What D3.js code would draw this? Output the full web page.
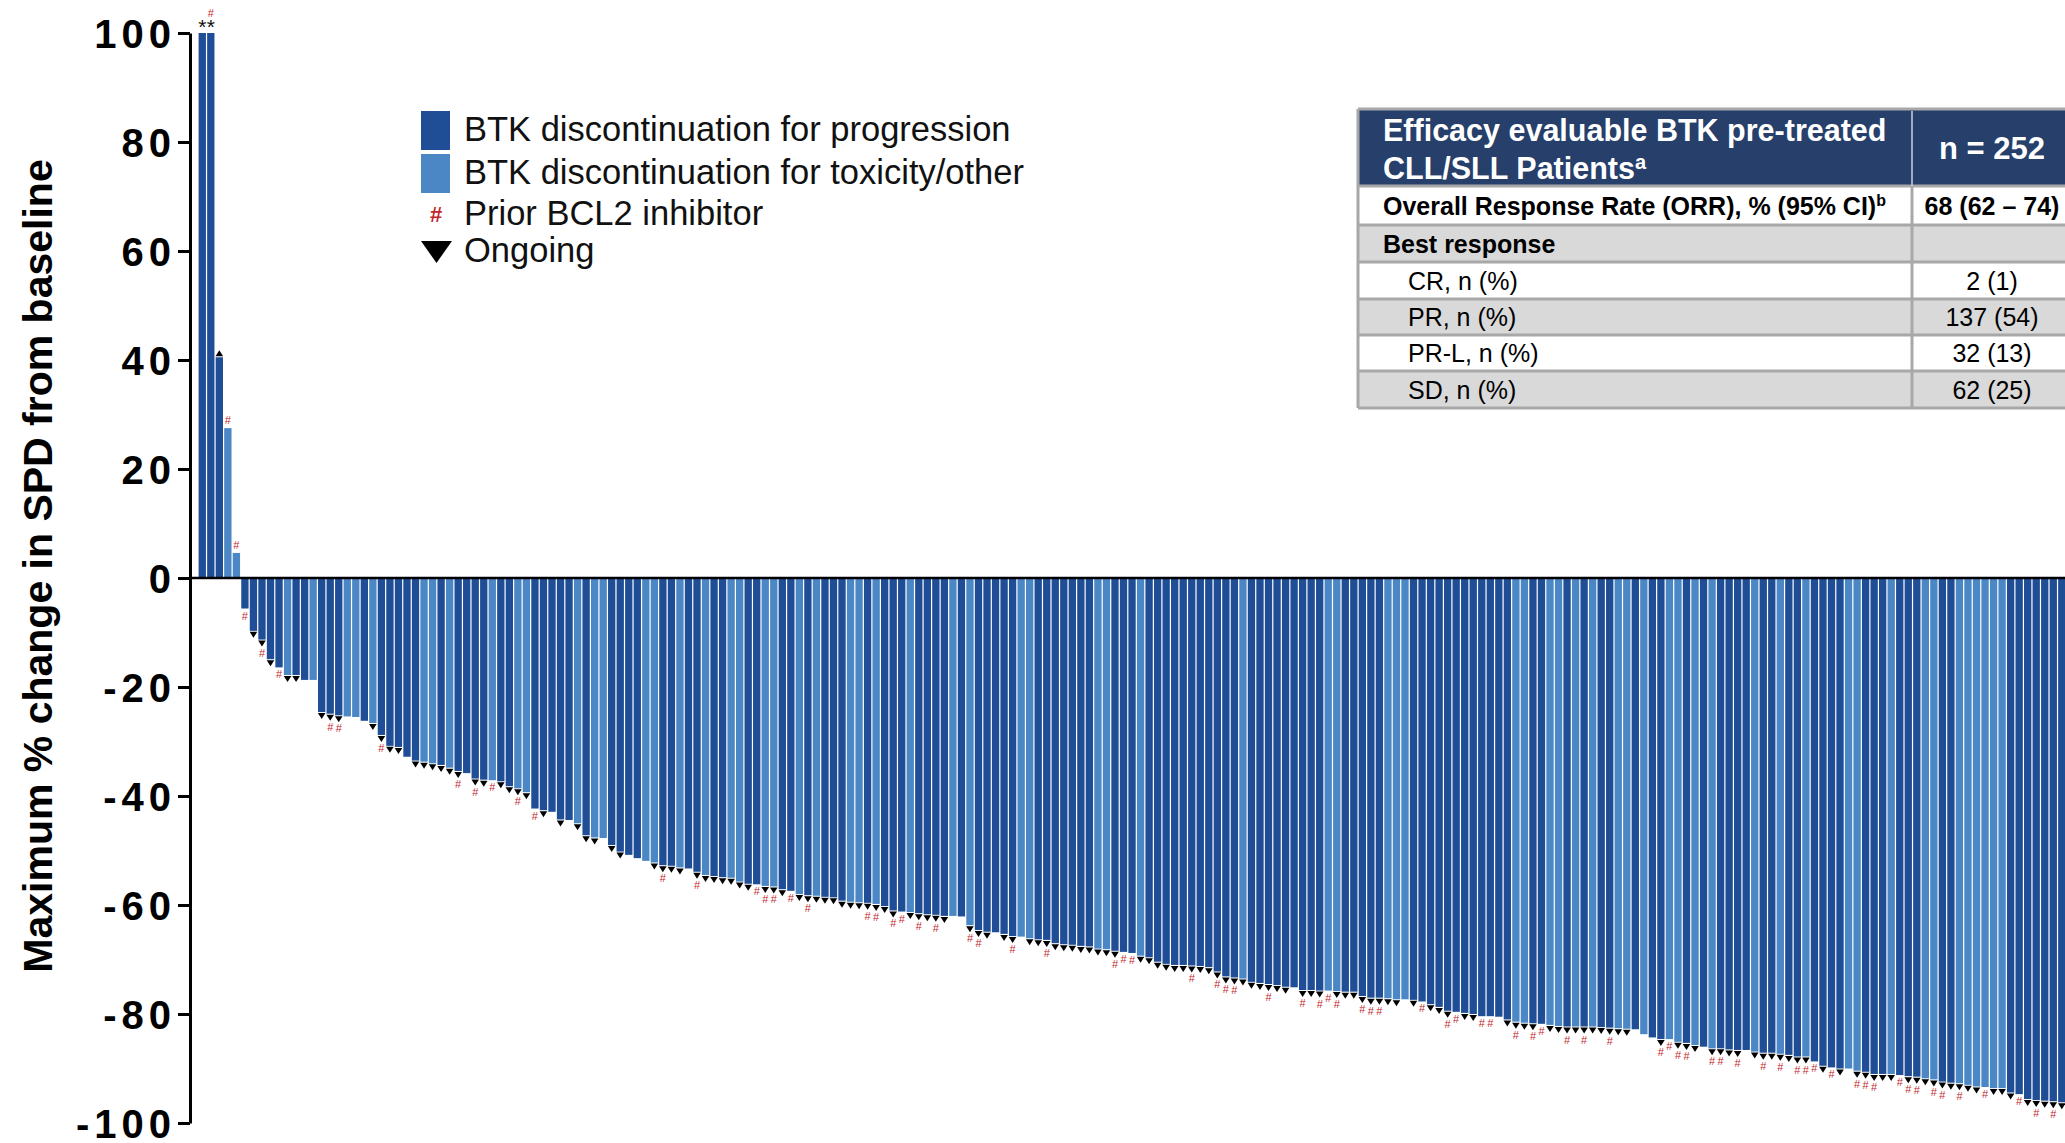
<!DOCTYPE html>
<html>
<head>
<meta charset="utf-8">
<script src="https://cdn.jsdelivr.net/npm/d3@7"></script>
<style>
  body { margin: 0; background: #fff; }
  svg { display: block; font-family: "Liberation Sans", Arial, sans-serif; }
</style>
</head>
<body>
<svg id="chart"></svg>
<script>
// maximum % change in SPD from baseline, one value per patient (sorted)
let changes = [
    100, 100, 40.5, 27.5, 4.6, -5.6, -9.7, -11.3, -14.9, -16.4,
    -17.8, -17.8, -18.7, -18.7, -24.6, -24.9, -25.2, -25.4, -25.5, -26.2,
    -26.6, -28.8, -30.8, -31.0, -32.8, -33.5, -33.7, -34.0, -34.3, -34.8,
    -35.4, -35.8, -36.8, -37.0, -37.1, -37.3, -38.2, -38.6, -39.3, -42.3,
    -42.6, -42.9, -44.3, -44.4, -45.0, -47.2, -47.6, -47.7, -49.0, -50.2,
    -50.8, -51.4, -51.9, -52.2, -52.7, -52.8, -53.1, -53.3, -53.9, -54.5,
    -54.7, -54.9, -55.0, -55.7, -56.1, -56.2, -56.5, -56.6, -57.1, -57.4,
    -58.0, -58.2, -58.3, -58.5, -58.6, -59.2, -59.4, -59.5, -59.6, -59.8,
    -60.2, -61.0, -61.2, -61.3, -61.5, -61.7, -61.8, -62.0, -62.0, -62.1,
    -63.7, -64.6, -64.9, -65.0, -65.3, -65.7, -65.8, -66.1, -66.3, -66.4,
    -67.0, -67.2, -67.3, -67.5, -67.6, -68.0, -68.1, -68.4, -68.6, -68.8,
    -69.3, -69.6, -70.4, -70.8, -71.0, -71.0, -71.1, -71.2, -71.4, -72.2,
    -73.1, -73.3, -73.5, -74.1, -74.3, -74.5, -74.7, -75.0, -75.1, -75.6,
    -75.6, -75.7, -75.7, -75.8, -75.9, -75.9, -76.7, -77.0, -77.0, -77.1,
    -77.3, -77.3, -77.4, -77.7, -78.2, -78.7, -79.4, -79.6, -79.8, -80.0,
    -80.4, -80.4, -80.5, -81.0, -81.4, -81.6, -81.7, -81.8, -82.0, -82.2,
    -82.3, -82.3, -82.3, -82.3, -82.4, -82.5, -82.6, -82.7, -82.8, -83.7,
    -84.3, -84.6, -84.6, -85.1, -85.3, -85.7, -86.0, -86.3, -86.3, -86.5,
    -86.6, -86.6, -86.9, -87.1, -87.1, -87.3, -87.5, -87.8, -87.8, -88.7,
    -89.5, -89.8, -90.0, -90.0, -90.4, -90.6, -91.0, -91.0, -91.0, -91.2,
    -91.4, -91.5, -91.8, -92.0, -92.4, -92.6, -92.7, -93.0, -93.3, -93.4,
    -93.6, -93.6, -94.4, -94.7, -95.6, -95.8, -95.9, -96.0, -96.2, -96.3
];

// patients whose BTK discontinuation was for toxicity/other (others: progression)
let toxicityBars = [3, 4, 10, 13, 17, 18, 20, 26, 27, 29, 34, 37, 38, 44, 46, 47, 52, 53, 56, 59,
    62, 63, 66, 67, 70, 72, 76, 77, 79, 83, 88, 90, 96, 97, 105, 106, 110, 122, 132, 133,
    139, 140, 141, 154, 155, 158, 159, 161, 163, 166, 167, 169, 172, 173, 175, 177, 182, 185, 188, 193,
    194, 198, 202, 203, 206, 207, 208, 209, 210, 211];

let ongoingBars = [2, 6, 7, 8, 10, 11, 14, 15, 16, 20, 21, 22, 23, 25, 26, 27, 28, 29, 30, 32,
    33, 35, 36, 37, 38, 40, 42, 44, 45, 46, 48, 49, 53, 54, 55, 56, 58, 59, 60, 61,
    62, 63, 64, 66, 67, 68, 70, 71, 72, 73, 74, 75, 76, 77, 78, 79, 80, 81, 83, 84,
    85, 86, 87, 90, 91, 92, 94, 95, 97, 98, 99, 100, 101, 102, 103, 104, 105, 106, 107, 110,
    111, 112, 113, 114, 115, 116, 117, 118, 119, 120, 121, 122, 123, 124, 125, 126, 127, 129, 130, 131,
    133, 134, 135, 136, 137, 138, 139, 140, 142, 144, 145, 146, 148, 149, 153, 154, 155, 156, 158, 159,
    160, 161, 162, 163, 164, 165, 166, 167, 171, 173, 174, 175, 177, 178, 179, 180, 182, 183, 184, 185,
    186, 187, 188, 190, 192, 194, 195, 196, 197, 198, 200, 201, 202, 203, 204, 205, 206, 207, 208, 210,
    211, 212, 214, 215, 216, 217, 218, 219];

let bcl2Bars = [1, 3, 4, 5, 7, 9, 15, 16, 21, 30, 32, 34, 37, 39, 54, 58, 65, 66, 67, 69,
    71, 78, 79, 81, 82, 84, 86, 90, 91, 95, 99, 107, 108, 109, 116, 119, 120, 121, 125, 129,
    131, 132, 133, 136, 137, 138, 143, 146, 147, 150, 151, 154, 156, 157, 160, 162, 165, 171, 172, 173,
    174, 177, 178, 180, 183, 185, 187, 188, 189, 191, 194, 195, 196, 199, 200, 201, 203, 204, 206, 209,
    213, 215, 217, 219];

// bars truncated at +100 (marked **)
let cappedBars = [0, 1];

let yTicks = [-100, -80, -60, -40, -20, 0, 20, 40, 60, 80, 100];
let yTitle = "Maximum % change in SPD from baseline";

let legendLabels = ["BTK discontinuation for progression", "BTK discontinuation for toxicity/other",
    "Prior BCL2 inhibitor", "Ongoing"];

let tableHeader = ["Efficacy evaluable BTK pre-treated", "CLL/SLL Patients"];
let tableN = "n = 252";
let rowLabels = ["Overall Response Rate (ORR), % (95% CI)", "Best response", "CR, n (%)",
    "PR, n (%)", "PR-L, n (%)", "SD, n (%)"];
let rowValues = ["68 (62 \u2013 74)", "", "2 (1)", "137 (54)", "32 (13)", "62 (25)"];

let darkColor = "#1f4e96";
let lightColor = "#4b87c5";
let hashColor = "#c0282d";
let navy = "#263f6b";
let grey = "#d9d9d9";
let border = "#a8a8a8";

let width = 2065, height = 1143;
let axisX = 190;

let svg = d3.select("#chart")
    .attr("width", width)
    .attr("height", height);

let x = d3.scaleBand()
    .domain(d3.range(changes.length))
    .range([198, 198 + changes.length * 8.53]);

let y = d3.scaleLinear()
    .domain([-100, 100])
    .range([1123, 33]);

// bars
svg.append("g").selectAll("rect")
    .data(changes)
    .enter()
    .append("rect")
    .attr("x", function (d, i) { return x(i) + 0.6; })
    .attr("width", x.bandwidth() - 1.2)
    .attr("y", function (d) { return y(Math.max(0, d)); })
    .attr("height", function (d) { return Math.abs(y(d) - y(0)); })
    .attr("fill", function (d, i) { return toxicityBars.includes(i) ? lightColor : darkColor; });

// zero line
svg.append("line")
    .attr("x1", axisX)
    .attr("x2", width)
    .attr("y1", y(0))
    .attr("y2", y(0))
    .attr("stroke", "#000")
    .attr("stroke-width", 2.5);

// y axis (plain hyphen for negatives, like the original)
let yAxis = d3.axisLeft(y)
    .tickValues(yTicks)
    .tickFormat(function (d) { return String(d); })
    .tickSize(12)
    .tickSizeOuter(0)
    .tickPadding(2);
let axisG = svg.append("g")
    .attr("transform", "translate(" + axisX + ",0)")
    .call(yAxis);
axisG.select(".domain").attr("stroke-width", 3);
axisG.selectAll(".tick line").attr("stroke-width", 3);
axisG.selectAll(".tick text")
    .attr("font-family", "'Liberation Sans', Arial, sans-serif")
    .attr("font-size", 40)
    .attr("font-weight", "bold")
    .attr("dy", "0.35em")
    .style("letter-spacing", "5px");

svg.append("text")
    .attr("transform", "translate(52,566) rotate(-90)")
    .attr("text-anchor", "middle")
    .attr("font-size", 41)
    .attr("font-weight", "bold")
    .text(yTitle);

// ongoing triangles
svg.append("g").selectAll("path")
    .data(ongoingBars)
    .enter()
    .append("path")
    .attr("transform", function (i) {
        let v = changes[i];
        let cx = x(i) + x.bandwidth() / 2;
        return "translate(" + cx + "," + (v < 0 ? y(v) + 1 : y(v) - 1) + ")";
    })
    .attr("d", function (i) {
        return changes[i] < 0 ? "M-3.8,0L3.8,0L0,6Z" : "M-3.8,0L3.8,0L0,-6Z";
    })
    .attr("fill", "#000");

// prior BCL2 inhibitor marks
svg.append("g").selectAll("text")
    .data(bcl2Bars)
    .enter()
    .append("text")
    .attr("x", function (i) { return x(i) + x.bandwidth() / 2; })
    .attr("y", function (i) {
        let v = changes[i];
        if (v >= 0) {
            return cappedBars.includes(i) ? y(v) - 16 : y(v) - 4;
        }
        return ongoingBars.includes(i) ? y(v) + 17 : y(v) + 11;
    })
    .attr("text-anchor", "middle")
    .attr("font-size", 11)
    .attr("fill", hashColor)
    .text("#");

svg.append("g").selectAll("text")
    .data(cappedBars)
    .enter()
    .append("text")
    .attr("x", function (i) { return x(i) + x.bandwidth() / 2; })
    .attr("y", function (i) { return y(changes[i]) + 1; })
    .attr("text-anchor", "middle")
    .attr("font-size", 21)
    .attr("fill", "#111")
    .text("*");

// legend
let legend = svg.append("g");
legend.append("rect")
    .attr("x", 421).attr("y", 111).attr("width", 29).attr("height", 39)
    .attr("fill", darkColor);
legend.append("rect")
    .attr("x", 421).attr("y", 154).attr("width", 29).attr("height", 39)
    .attr("fill", lightColor);
legend.append("text")
    .attr("x", 436).attr("y", 222)
    .attr("text-anchor", "middle")
    .attr("font-size", 22)
    .attr("font-weight", "bold")
    .attr("fill", hashColor)
    .text("#");
legend.append("path")
    .attr("d", "M421,241L452,241L436.5,263Z")
    .attr("fill", "#000");
let legendBase = [141, 184, 225, 262];
legend.selectAll("text.lab")
    .data(legendLabels)
    .enter()
    .append("text")
    .attr("class", "lab")
    .attr("x", 464)
    .attr("y", function (d, i) { return legendBase[i]; })
    .attr("font-size", 34.5)
    .attr("fill", "#111")
    .text(function (d) { return d; });

// response table
let tL = 1358, tR = 2072, tDiv = 1912;
let edges = [109, 186, 225, 262, 299, 335, 371, 408];
let table = svg.append("g");

table.append("rect")
    .attr("x", tL).attr("y", edges[0])
    .attr("width", tR - tL).attr("height", edges[1] - edges[0])
    .attr("fill", navy);
table.selectAll("rect.row")
    .data(rowLabels)
    .enter()
    .append("rect")
    .attr("class", "row")
    .attr("x", tL)
    .attr("y", function (d, i) { return edges[i + 1]; })
    .attr("width", tR - tL)
    .attr("height", function (d, i) { return edges[i + 2] - edges[i + 1]; })
    .attr("fill", function (d, i) { return i % 2 === 1 ? grey : "#fff"; });

// grid lines
table.selectAll("line.h")
    .data(edges)
    .enter()
    .append("line")
    .attr("class", "h")
    .attr("x1", tL).attr("x2", tR)
    .attr("y1", function (d) { return d; })
    .attr("y2", function (d) { return d; })
    .attr("stroke", border)
    .attr("stroke-width", 3);
table.append("line")
    .attr("x1", tL).attr("x2", tL)
    .attr("y1", edges[0]).attr("y2", edges[edges.length - 1])
    .attr("stroke", border).attr("stroke-width", 3);
table.append("line")
    .attr("x1", tDiv).attr("x2", tDiv)
    .attr("y1", edges[0] + 2).attr("y2", edges[1])
    .attr("stroke", "#c9d0dc").attr("stroke-width", 1.5);
table.append("line")
    .attr("x1", tDiv).attr("x2", tDiv)
    .attr("y1", edges[1]).attr("y2", edges[edges.length - 1])
    .attr("stroke", border).attr("stroke-width", 3);

table.append("text")
    .attr("x", 1383).attr("y", 141)
    .attr("font-size", 30.5).attr("font-weight", "bold").attr("fill", "#fff")
    .text(tableHeader[0]);
let head2 = table.append("text")
    .attr("x", 1383).attr("y", 179)
    .attr("font-size", 30.5).attr("font-weight", "bold").attr("fill", "#fff");
head2.append("tspan").text(tableHeader[1]);
head2.append("tspan").attr("font-size", 20).attr("dy", -10).text("a");

table.append("text")
    .attr("x", 1992).attr("y", 159)
    .attr("text-anchor", "middle")
    .attr("font-size", 31).attr("font-weight", "bold").attr("fill", "#fff")
    .text(tableN);

table.selectAll("text.rl")
    .data(rowLabels)
    .enter()
    .append("text")
    .attr("class", "rl")
    .attr("x", function (d, i) { return i < 2 ? 1383 : 1408; })
    .attr("y", function (d, i) { return (edges[i + 1] + edges[i + 2]) / 2 + 9; })
    .attr("font-size", 25)
    .attr("font-weight", function (d, i) { return i < 2 ? "bold" : "normal"; })
    .attr("fill", "#000")
    .each(function (d, i) {
        let t = d3.select(this);
        t.append("tspan").text(d);
        if (i === 0) {
            t.append("tspan").attr("font-size", 16).attr("dy", -9).text("b");
        }
    });

table.selectAll("text.rv")
    .data(rowValues)
    .enter()
    .append("text")
    .attr("class", "rv")
    .attr("x", 1992)
    .attr("y", function (d, i) { return (edges[i + 1] + edges[i + 2]) / 2 + 9; })
    .attr("text-anchor", "middle")
    .attr("font-size", 25)
    .attr("font-weight", function (d, i) { return i === 0 ? "bold" : "normal"; })
    .attr("fill", "#000")
    .text(function (d) { return d; });
</script>
</body>
</html>
